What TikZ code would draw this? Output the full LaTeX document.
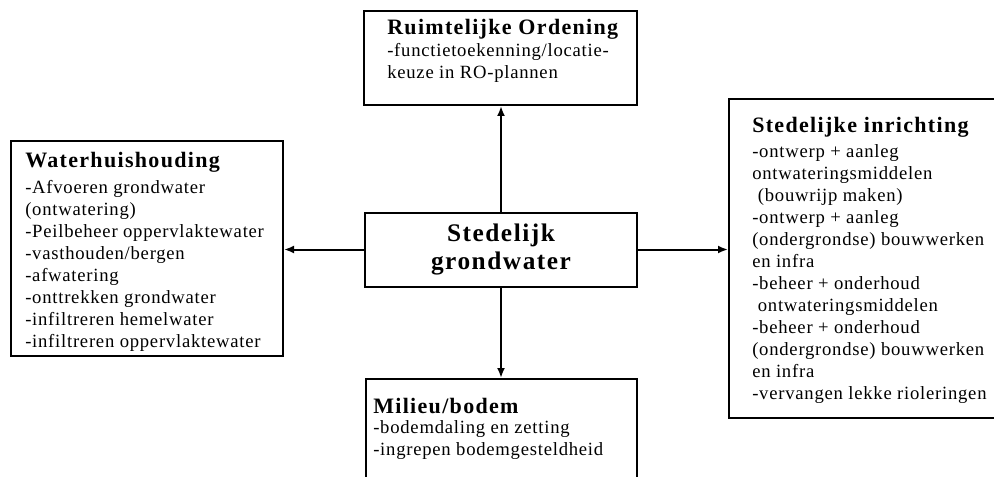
\documentclass[tikz,border=0pt]{standalone}
\usepackage{fontspec}
\setmainfont[LetterSpace=4]{Liberation Serif}
\usepackage{tikz}
\usetikzlibrary{positioning,arrows.meta}
\tikzset{
  blok/.style={draw, line width=1.5pt, inner sep=0pt},
  kop/.style={anchor=base west, inner sep=0pt, font=\fontsize{16.5}{18}\selectfont\bfseries\addfontfeatures{LetterSpace=6}},
  tekst/.style={anchor=base west, inner sep=0pt, align=left, font=\fontsize{14}{16.5}\selectfont},
  pijl/.style={-{Latex[length=7.5pt,width=6pt]}, line width=1.5pt}
}

\begin{document}
\begin{tikzpicture}[x=0.75pt,y=0.75pt,yscale=-1,xscale=1]
\useasboundingbox (0,0) rectangle (994,477);

%Shape: Rectangle [ruimtelijke ordening]
\node[blok, minimum width=204.75pt, minimum height=70.5pt] (ro) at (500.5,58) {};
%Shape: Rectangle [waterhuishouding]
\node[blok, minimum width=204pt, minimum height=161.25pt] (wh) at (147,248.5) {};
%Shape: Rectangle [stedelijk grondwater]
\node[blok, minimum width=204pt, minimum height=55.5pt] (sg) at (501,249.5) {};
%Shape: Rectangle [stedelijke inrichting]
\node[blok, minimum width=210.75pt, minimum height=239.25pt] (si) at (869.5,258.5) {};
%Shape: Rectangle [milieu/bodem]
\node[blok, minimum width=203.25pt, minimum height=90.75pt] (mb) at (501.5,439.5) {};

%Straight Lines
\draw[pijl] (sg.north) -- (sg.north |- ro.south);
\draw[pijl] (sg.south) -- (sg.south |- mb.north);
\draw[pijl] (sg.west) -- (sg.west -| wh.east);
\draw[pijl] (sg.east) -- (sg.east -| si.west);

% Text Node
\node[align=center, inner sep=0pt, font=\fontsize{19}{21}\selectfont\bfseries\addfontfeatures{LetterSpace=6}] (sg-tekst) at (sg.center) {Stedelijk\\grondwater};
% Text Node
\node[kop] (ro-kop) at (387,35) {Ruimtelijke Ordening};
\node[tekst] (ro-tekst) at (387,79) {-functietoekenning/locatie-\\keuze in RO-plannen};
% Text Node
\node[kop] (wh-kop) at (25,168) {Waterhuishouding};
\node[tekst] (wh-tekst) at (25,347) {-Afvoeren grondwater\\(ontwatering)\\-Peilbeheer oppervlaktewater\\-vasthouden/bergen\\-afwatering\\-onttrekken grondwater\\-infiltreren hemelwater\\-infiltreren oppervlaktewater};
% Text Node
\node[kop] (si-kop) at (752,133) {Stedelijke inrichting};
\node[tekst] (si-tekst) at (752,399) {-ontwerp + aanleg\\ontwateringsmiddelen\\\hspace{0.3em}(bouwrijp maken)\\-ontwerp + aanleg\\(ondergrondse) bouwwerken\\en infra\\-beheer + onderhoud\\\hspace{0.3em}ontwateringsmiddelen\\-beheer + onderhoud\\(ondergrondse) bouwwerken\\en infra\\-vervangen lekke rioleringen};
% Text Node
\node[kop] (mb-kop) at (373,413) {Milieu/bodem};
\node[tekst] (mb-tekst) at (373,455) {-bodemdaling en zetting\\-ingrepen bodemgesteldheid};

\end{tikzpicture}
\end{document}
